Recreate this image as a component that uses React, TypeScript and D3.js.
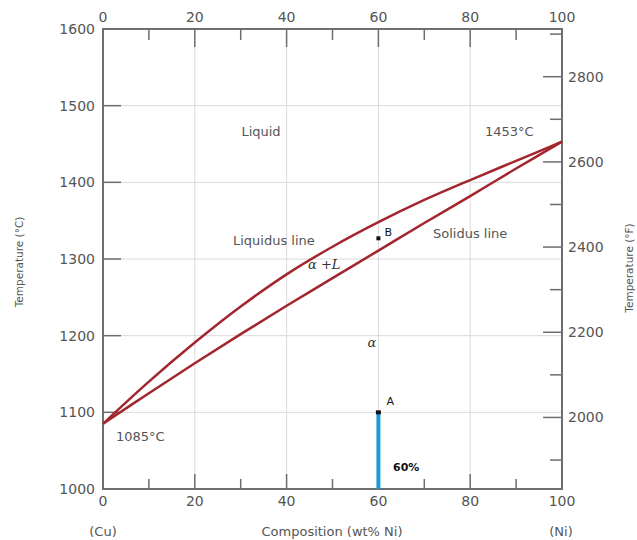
import React from "react";
import * as d3 from "d3";

// Cu-Ni phase diagram values
const compositions = [0, 10, 20, 30, 40, 50, 60, 70, 80, 90, 100];
const liquidusTemps = [1085, 1140, 1191, 1238, 1280, 1316, 1348, 1377, 1403, 1428, 1453];
const solidusTemps = [1085, 1125, 1164, 1202, 1239, 1275, 1311, 1347, 1382, 1418, 1453];

const xMajorTicks = [0, 20, 40, 60, 80, 100];
const xMinorTicks = [10, 30, 50, 70, 90];
const celsiusTicks = [1000, 1100, 1200, 1300, 1400, 1500, 1600];
const fahrenheitMajor = [2000, 2200, 2400, 2600, 2800];
const fahrenheitMinor = [1900, 2100, 2300, 2500, 2700, 2900];

const pointA = { comp: 60, temp: 1100 };
const pointB = { comp: 60, temp: 1327 };

const W = 637;
const H = 540;
const margin = { top: 29, right: 75, bottom: 51, left: 103 };

const axisColor = "#6e6e6e";
const textColor = "#555";
const gridColor = "#dadada";
const curveColor = "#a3262e";
const font = "'DejaVu Sans', Verdana, sans-serif";

export default function App() {
  const x = d3.scaleLinear().domain([0, 100]).range([margin.left, W - margin.right]);
  const y = d3.scaleLinear().domain([1000, 1600]).range([H - margin.bottom, margin.top]);
  const toF = (c: number) => (c * 9) / 5 + 32;
  const yF = d3.scaleLinear().domain([toF(1000), toF(1600)]).range([H - margin.bottom, margin.top]);

  const line = d3
    .line<number>()
    .x((_, i) => x(compositions[i]))
    .y((d) => y(d))
    .curve(d3.curveCatmullRom);

  const x0 = x(0);
  const x1 = x(100);
  const yTop = y(1600);
  const yBot = y(1000);

  return (
    <svg width={W} height={H} style={{ position: "absolute", left: 0, top: 0, background: "#fff" }} fontFamily={font}>
      {/* grid */}
      {[20, 40, 60, 80].map((c) => (
        <line key={"gv" + c} x1={x(c)} x2={x(c)} y1={yTop} y2={yBot} stroke={gridColor} strokeWidth={1} />
      ))}
      {[1100, 1200, 1300, 1400, 1500].map((t) => (
        <line key={"gh" + t} x1={x0} x2={x1} y1={y(t)} y2={y(t)} stroke={gridColor} strokeWidth={1} />
      ))}

      {/* ticks top & bottom */}
      {xMajorTicks.slice(1, -1).map((c) => (
        <g key={"xt" + c}>
          <line x1={x(c)} x2={x(c)} y1={yTop} y2={yTop + 18} stroke={axisColor} strokeWidth={1.5} />
          <line x1={x(c)} x2={x(c)} y1={yBot} y2={yBot - 15} stroke={axisColor} strokeWidth={1.5} />
        </g>
      ))}
      {xMinorTicks.map((c) => (
        <g key={"xm" + c}>
          <line x1={x(c)} x2={x(c)} y1={yTop} y2={yTop + 11} stroke={axisColor} strokeWidth={1.5} />
          <line x1={x(c)} x2={x(c)} y1={yBot} y2={yBot - 10} stroke={axisColor} strokeWidth={1.5} />
        </g>
      ))}
      {xMajorTicks.map((c) => (
        <g key={"xl" + c} fill={textColor} fontSize={14} textAnchor="middle">
          <text x={x(c)} y={22}>{c}</text>
          <text x={x(c)} y={506}>{c}</text>
        </g>
      ))}

      {/* left axis */}
      {celsiusTicks.slice(1, -1).map((t) => (
        <line key={"lt" + t} x1={x0} x2={x0 + 18} y1={y(t)} y2={y(t)} stroke={axisColor} strokeWidth={1.5} />
      ))}
      {celsiusTicks.map((t) => (
        <text key={"ll" + t} x={95} y={y(t) + 5} fill={textColor} fontSize={14} textAnchor="end">
          {t}
        </text>
      ))}

      {/* right axis (°F) */}
      {fahrenheitMajor.map((t) => (
        <g key={"rt" + t}>
          <line x1={x1 - 19} x2={x1} y1={yF(t)} y2={yF(t)} stroke={axisColor} strokeWidth={1.5} />
          <text x={x1 + 6} y={yF(t) + 5} fill={textColor} fontSize={14}>
            {t}
          </text>
        </g>
      ))}
      {fahrenheitMinor.map((t) => (
        <line key={"rm" + t} x1={x1 - 12} x2={x1} y1={yF(t)} y2={yF(t)} stroke={axisColor} strokeWidth={1.5} />
      ))}

      {/* frame */}
      <rect x={x0} y={yTop} width={x1 - x0} height={yBot - yTop} fill="none" stroke={axisColor} strokeWidth={2} />

      {/* phase boundaries */}
      <path d={line(liquidusTemps) || ""} fill="none" stroke={curveColor} strokeWidth={2.5} />
      <path d={line(solidusTemps) || ""} fill="none" stroke={curveColor} strokeWidth={2.5} />

      {/* composition bar and points */}
      <line
        x1={x(pointA.comp)}
        x2={x(pointA.comp)}
        y1={y(pointA.temp)}
        y2={yBot}
        stroke="#1a9bd7"
        strokeWidth={4}
      />
      <rect x={x(pointA.comp) - 2.5} y={y(pointA.temp) - 2} width={5} height={4} fill="#111" />
      <rect x={x(pointB.comp) - 2} y={y(pointB.temp) - 2} width={4} height={4} fill="#111" />
      <text x={x(pointA.comp) + 8} y={y(pointA.temp) - 7} fontSize={11} fill="#111">A</text>
      <text x={x(pointB.comp) + 6} y={y(pointB.temp) - 2} fontSize={11} fill="#111">B</text>
      <text x={393} y={471} fontSize={11} fontWeight="bold" fill="#111">60%</text>

      {/* region labels */}
      <g fill={textColor} fontSize={13}>
        <text x={261} y={136} textAnchor="middle">Liquid</text>
        <text x={485} y={136}>1453°C</text>
        <text x={116} y={441}>1085°C</text>
        <text x={233} y={245}>Liquidus line</text>
        <text x={433} y={238}>Solidus line</text>
      </g>
      <g fill="#333" fontFamily="'DejaVu Serif', 'Liberation Serif', serif" fontStyle="italic" fontSize={13}>
        <text x={308} y={269}>α +L</text>
        <text x={372} y={347} textAnchor="middle">α</text>
      </g>

      {/* axis titles */}
      <g fill={textColor} fontSize={13}>
        <text x={103} y={536} textAnchor="middle">(Cu)</text>
        <text x={332} y={536} textAnchor="middle">Composition (wt% Ni)</text>
        <text x={561} y={536} textAnchor="middle">(Ni)</text>
      </g>
      <text transform="translate(23,262) rotate(-90)" fill={textColor} fontSize={10.5} textAnchor="middle">
        Temperature (°C)
      </text>
      <text transform="translate(633,268) rotate(-90)" fill={textColor} fontSize={10.5} textAnchor="middle">
        Temperature (°F)
      </text>
    </svg>
  );
}
